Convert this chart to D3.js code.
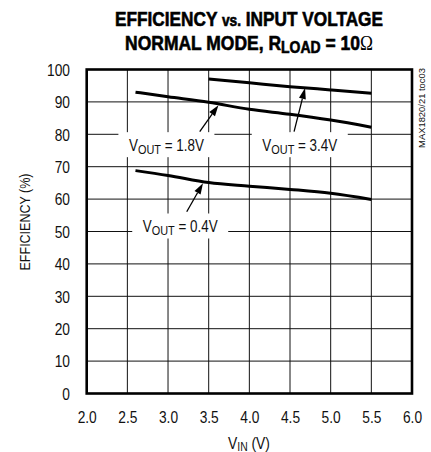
<!DOCTYPE html>
<html><head><meta charset="utf-8">
<script src="https://cdn.jsdelivr.net/npm/d3@7"></script>
<style>
html,body{margin:0;padding:0;background:#fff;}
svg{display:block;font-family:"Liberation Sans",Arial,sans-serif;}
</style></head>
<body>
<svg id="chart" width="431" height="452"></svg>
<script>
// ---- data ----
const xTicks = [2.0, 2.5, 3.0, 3.5, 4.0, 4.5, 5.0, 5.5, 6.0];
const yTicks = [0, 10, 20, 30, 40, 50, 60, 70, 80, 90, 100];
const vin = [2.6, 3.0, 3.5, 4.0, 4.5, 5.0, 5.5];
const eff18 = [93.0, 91.6, 89.9, 87.7, 86.2, 84.4, 82.2];
const eff04 = [68.8, 67.3, 65.1, 64.0, 63.0, 61.8, 59.9];
const vin34 = [3.5, 4.0, 4.5, 5.0, 5.5];
const eff34 = [97.1, 95.9, 94.7, 93.7, 92.7];
const labels = ["1.8V", "3.4V", "0.4V"];

const svg = d3.select("#chart");
const L = 86.7, R = 412, T = 69.5, B = 393.5;
const x = d3.scaleLinear().domain([2, 6]).range([L, R]);
const y = d3.scaleLinear().domain([0, 100]).range([B, T]);
const K = 0.86; // horizontal condensing of text

function ctext(parent, tx, ty, target, rot) {
  const gg = parent.append("g");
  const t = gg.append("text").attr("text-anchor", "middle").attr("fill", "#111");
  return {t, fit() {
    const w = t.node().getComputedTextLength();
    const k = target ? target / w : K;
    gg.attr("transform", `translate(${tx},${ty})` + (rot ? ` rotate(${rot})` : "") + ` scale(${k},1)`);
  }};
}

// grid
const g = svg.append("g");
g.selectAll("line.v").data(xTicks.slice(1, -1)).join("line")
  .attr("x1", d => x(d)).attr("x2", d => x(d)).attr("y1", T).attr("y2", B)
  .attr("stroke", "#111").attr("stroke-width", 1);
g.selectAll("line.h").data(yTicks.slice(1, -1)).join("line")
  .attr("y1", d => y(d)).attr("y2", d => y(d)).attr("x1", L).attr("x2", R)
  .attr("stroke", "#111").attr("stroke-width", 1);

// axes labels
const yAxis = d3.axisLeft(y).tickValues(yTicks).tickSize(0).tickPadding(16.7).tickFormat(d3.format("d"));
const ya = svg.append("g").attr("transform", `translate(${L},0)`).call(yAxis);
ya.select(".domain").remove();
ya.selectAll("text").attr("font-size", 16).attr("fill", "#111").attr("font-family", "inherit")
  .attr("dy", "0.36em").attr("x", -16.7 / K).attr("transform", `scale(${K},1)`);

const xAxis = d3.axisBottom(x).tickValues(xTicks).tickSize(0).tickPadding(18).tickFormat(d3.format(".1f"));
const xa = svg.append("g").attr("transform", `translate(0,${B})`).call(xAxis);
xa.select(".domain").remove();
xa.selectAll("text").attr("font-size", 16).attr("fill", "#111").attr("font-family", "inherit")
  .attr("transform", `scale(${K},1)`);

// annotations (label boxes + arrows)
const ann = [
  {t: labels[0], cx: 2.98, cy: 76.8, tx: 3.62, ty: 89.0, sx: 3.39, sy: 80.8},
  {t: labels[1], cx: 4.62, cy: 76.8, tx: 4.685, ty: 94.3, sx: 4.55, sy: 80.8},
  {t: labels[2], cx: 3.15, cy: 51.7, tx: 3.43, ty: 64.9, sx: 3.23, sy: 56.1}
];
ann.forEach(a => {
  const cxp = x(a.cx), cyp = y(a.cy);
  svg.append("rect").attr("x", cxp - 48).attr("y", cyp - 12.5).attr("width", 96).attr("height", 25).attr("fill", "#fff");
  const c = ctext(svg, cxp, cyp + 6, 75);
  c.t.attr("font-size", 16);
  c.t.append("tspan").text("V");
  c.t.append("tspan").attr("font-size", 13).attr("dy", 3).text("OUT");
  c.t.append("tspan").attr("dy", -3).text(" = " + a.t);
  c.fit();
  const x1 = x(a.sx), y1 = y(a.sy), x2 = x(a.tx), y2 = y(a.ty);
  const ang = Math.atan2(y2 - y1, x2 - x1);
  const hl = 11, hw = 3.5;
  const bx = x2 - hl * Math.cos(ang), by = y2 - hl * Math.sin(ang);
  svg.append("line").attr("x1", x1).attr("y1", y1).attr("x2", bx).attr("y2", by)
    .attr("stroke", "#000").attr("stroke-width", 1.3);
  const px = -Math.sin(ang) * hw, py = Math.cos(ang) * hw;
  svg.append("path").attr("d", `M${x2},${y2}L${bx + px},${by + py}L${bx - px},${by - py}Z`).attr("fill", "#000");
});

// curves
const line = d3.line().x(d => x(d[0])).y(d => y(d[1])).curve(d3.curveMonotoneX);
[[vin, eff18], [vin, eff04], [vin34, eff34]].forEach(([xs, ys]) => {
  svg.append("path").datum(xs.map((v, i) => [v, ys[i]])).attr("d", line)
    .attr("fill", "none").attr("stroke", "#000").attr("stroke-width", 3);
});

// frame
svg.append("rect").attr("x", L).attr("y", T).attr("width", R - L).attr("height", B - T)
  .attr("fill", "none").attr("stroke", "#000").attr("stroke-width", 2.6);

// titles
const t1 = ctext(svg, 249, 26, 268);
t1.t.attr("font-size", 20).attr("font-weight", "bold").attr("fill", "#000").attr("stroke", "#000").attr("stroke-width", 0.6);
t1.t.append("tspan").text("EFFICIENCY ");
t1.t.append("tspan").attr("font-size", 16).text("vs.");
t1.t.append("tspan").text(" INPUT VOLTAGE");
t1.fit();
const t2 = ctext(svg, 249, 50, 248);
t2.t.attr("font-size", 20).attr("font-weight", "bold").attr("fill", "#000").attr("stroke", "#000").attr("stroke-width", 0.6);
t2.t.append("tspan").text("NORMAL MODE, R");
t2.t.append("tspan").attr("font-size", 16).attr("dy", 3).text("LOAD");
t2.t.append("tspan").attr("dy", -3).text(" = 10");
t2.t.append("tspan").attr("font-weight", "normal").attr("stroke-width", 0).attr("font-family", "Liberation Serif, serif").text("Ω");
t2.fit();

// axis titles
const xt = ctext(svg, 249, 449, 42);
xt.t.attr("font-size", 16);
xt.t.append("tspan").text("V");
xt.t.append("tspan").attr("font-size", 12).attr("dy", 2).text("IN");
xt.t.append("tspan").attr("dy", -2).text(" (V)");
xt.fit();

const yt = ctext(svg, 30, 222, 97, -90);
yt.t.attr("font-size", 15).text("EFFICIENCY (%)");
yt.fit();

const mt = ctext(svg, 425, 108, 80, -90);
mt.t.attr("font-size", 9).text("MAX1820/21 toc03");
mt.fit();
</script>
</body></html>
